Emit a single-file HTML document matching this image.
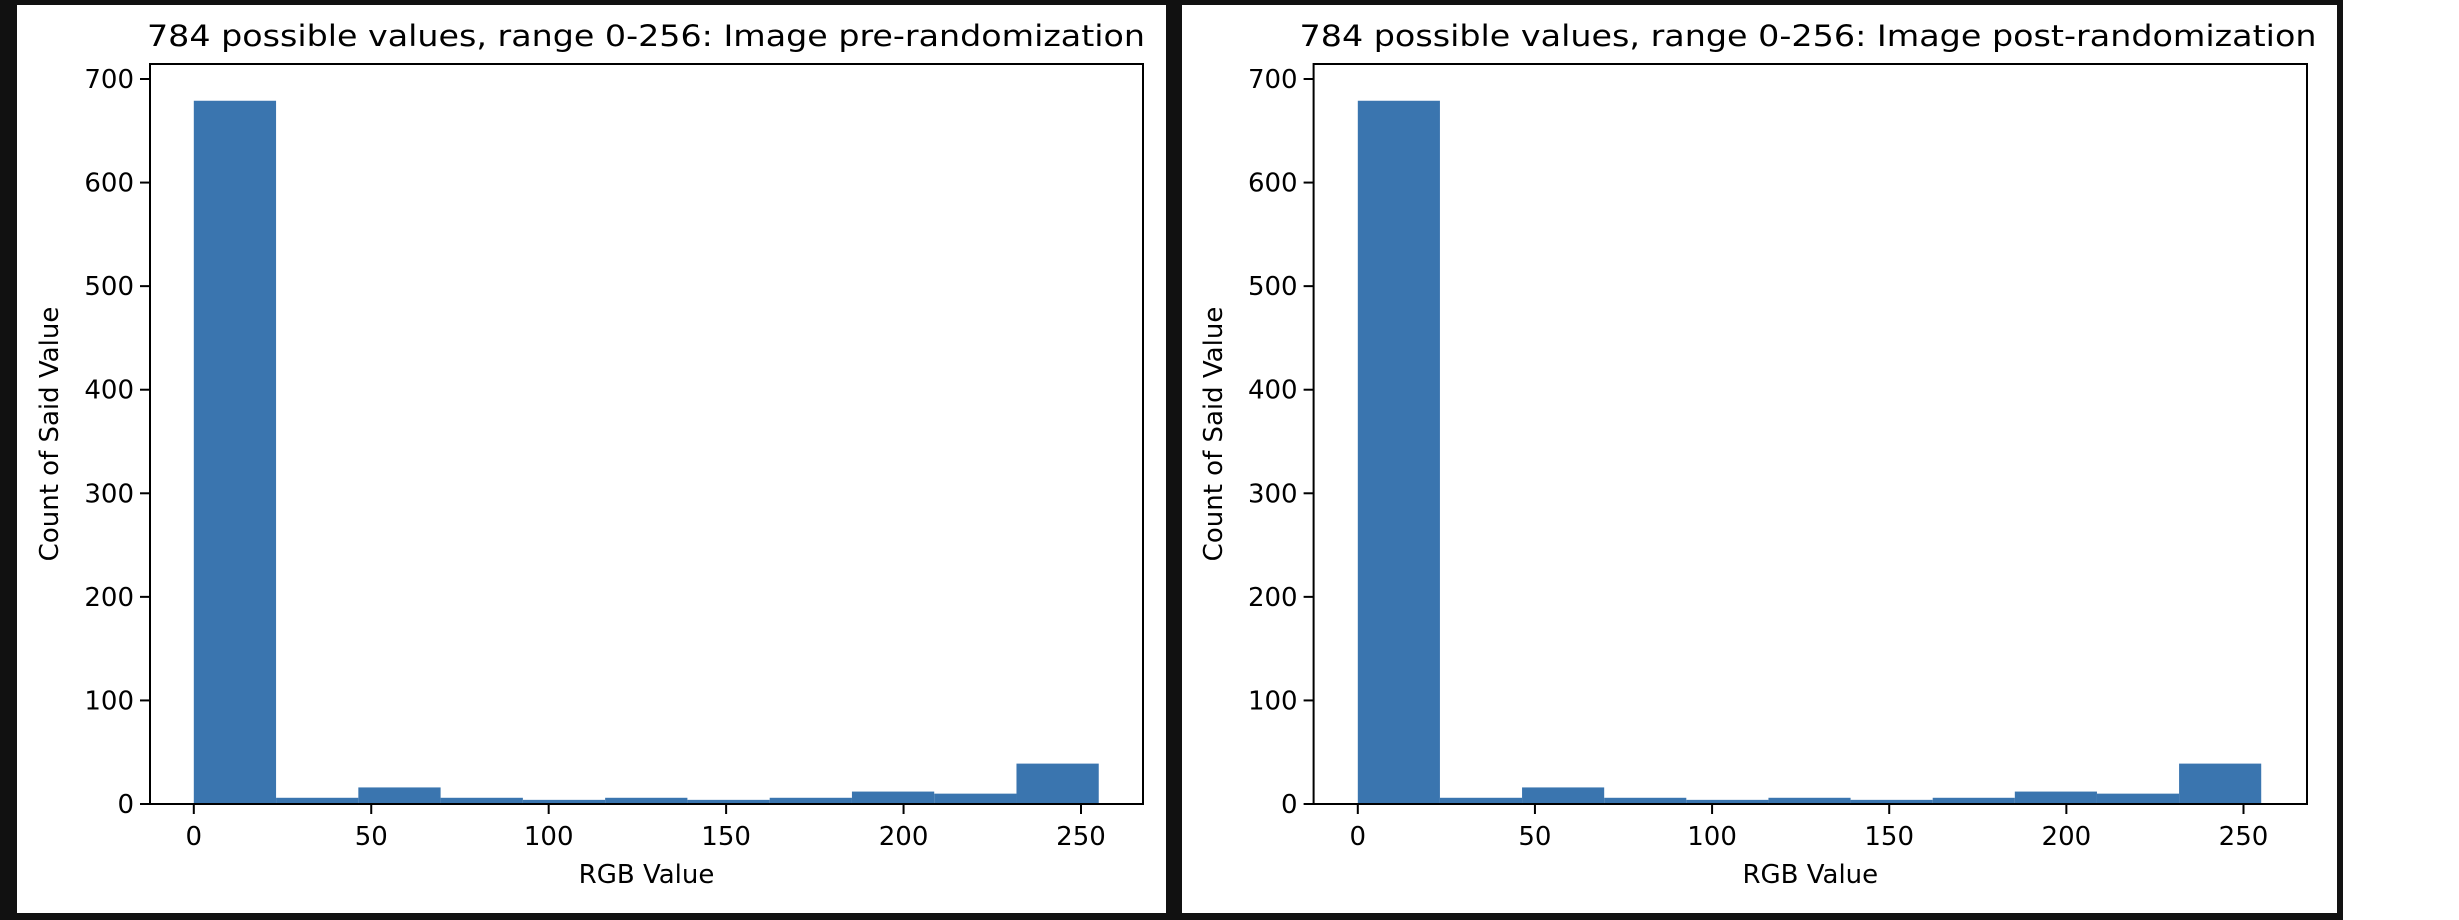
<!DOCTYPE html>
<html><head><meta charset="utf-8"><style>
html,body{margin:0;padding:0;background:#fff;}
svg{display:block;font-family:"DejaVu Sans","Liberation Sans",sans-serif;}
</style></head><body>
<svg id="svg" width="2459" height="920" viewBox="0 0 2459 920">
<rect x="0" y="0" width="2343" height="920" fill="#111"/>
<rect x="17" y="5" width="1149" height="908" fill="#fff"/>
<rect x="1182" y="5" width="1155" height="908" fill="#fff"/>
<g id="plots"></g>
</svg>
<script>
const binEdges0 = 0;
const binEdges1 = 255;
const countsPre = [679, 6, 16, 6, 4, 6, 4, 6, 12, 10, 39];
const countsPost = [679, 6, 16, 6, 4, 6, 4, 6, 12, 10, 39];
const xTicks = [0, 50, 100, 150, 200, 250];
const yTicks = [0, 100, 200, 300, 400, 500, 600, 700];
const titles = ["784 possible values, range 0-256: Image pre-randomization", "784 possible values, range 0-256: Image post-randomization"];

const NS = "http://www.w3.org/2000/svg";
const root = document.getElementById('plots');
function mk(tag, attrs, parent){const e=document.createElementNS(NS,tag);for(const k in attrs)e.setAttribute(k,attrs[k]);parent.appendChild(e);return e;}

const panels = [
 {L:150,R:1143,x0:193.8,x250:1081,title:titles[0],tcx:646,tw:998,ylx:49,data:countsPre,name:'pre'},
 {L:1313.6,R:2307,x0:1357.8,x250:2243.5,title:titles[1],tcx:1808,tw:1017,ylx:1213,data:countsPost,name:'post'}
];
const T=64,B=804,y700=79;
panels.forEach(p=>{
  const g=mk('g',{},root);
  
  
  const xs=v=>p.x0+(v/250)*(p.x250-p.x0);
  const ys=v=>B-(v/700)*(B-y700);
  const n=p.data.length, w=(binEdges1-binEdges0)/n;
  p.data.forEach((c,i)=>{
    const x1=xs(binEdges0+i*w), x2=xs(binEdges0+(i+1)*w);
    const r=mk('rect',{x:x1,y:ys(c),width:x2-x1,height:B-ys(c),fill:'#3a75af'},g);
    
    
  });
  const f=mk('rect',{x:p.L,y:T,width:p.R-p.L,height:B-T,fill:'none',stroke:'#000','stroke-width':2},g);
  
  
  xTicks.forEach(t=>{
    const x=xs(t);
    mk('line',{x1:x,x2:x,y1:B,y2:B+10,stroke:'#000','stroke-width':2},g);
    const tx=mk('text',{x:x,y:845,'font-size':26,'text-anchor':'middle'},g);
    tx.textContent=t;
    
    
  });
  yTicks.forEach(t=>{
    const y=ys(t);
    mk('line',{x1:p.L-10,x2:p.L,y1:y,y2:y,stroke:'#000','stroke-width':2},g);
    const tx=mk('text',{x:p.L-16,y:y+9,'font-size':26,'text-anchor':'end'},g);
    tx.textContent=t;
    
    
  });
  const ti=mk('text',{x:p.tcx,y:46,'font-size':29,'text-anchor':'middle',textLength:p.tw,lengthAdjust:'spacingAndGlyphs'},g);
  ti.textContent=p.title;
  
  
  const xl=mk('text',{x:(p.L+p.R)/2,y:883,'font-size':26,'text-anchor':'middle'},g);
  xl.textContent='RGB Value';
  
  
  const yl=mk('text',{x:0,y:0,'font-size':26,'text-anchor':'middle',transform:`translate(${p.ylx+9},434) rotate(-90)`},g);
  yl.textContent='Count of Said Value';
  
  
});
</script>
</body></html>
